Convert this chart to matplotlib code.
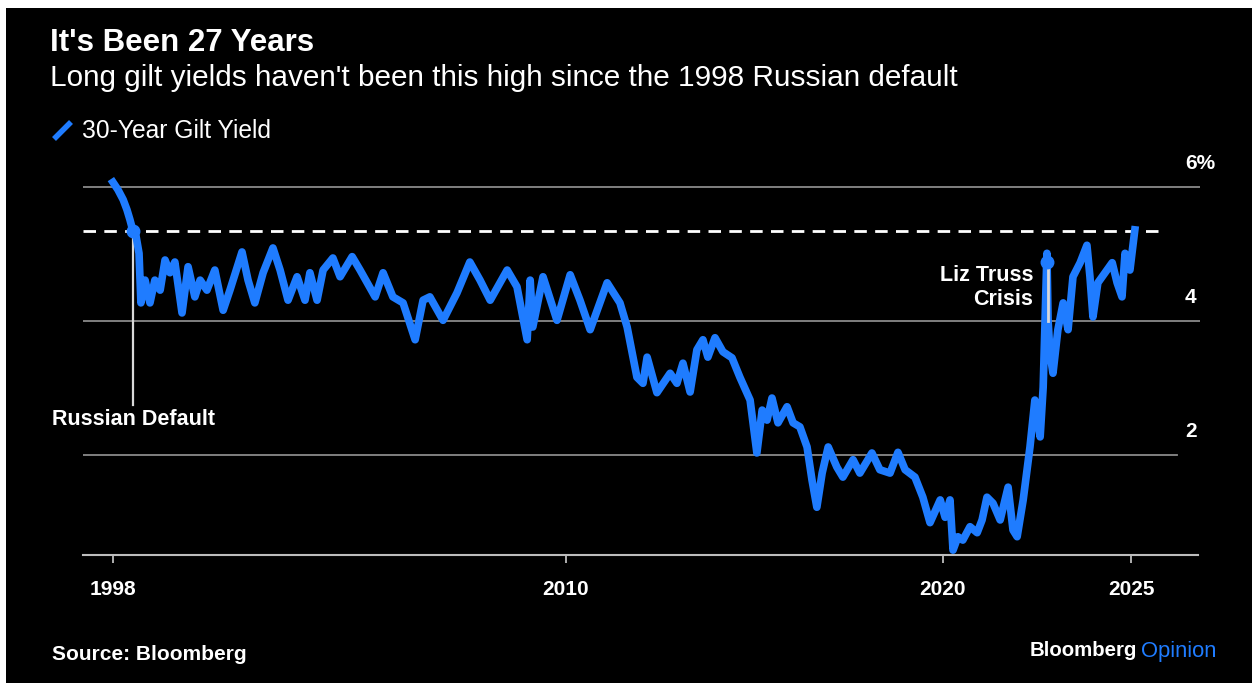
import numpy as np
import matplotlib
matplotlib.use("Agg")
import matplotlib.pyplot as plt
from matplotlib.lines import Line2D
from matplotlib.patches import Rectangle
import matplotlib.transforms as mtransforms

# 30-year gilt yield (decimal year, percent)
years = [
    1998.00, 1998.13, 1998.27, 1998.37, 1998.45, 1998.53, 1998.61, 1998.69, 1998.74, 1998.85,
    1998.98, 1999.11, 1999.25, 1999.38, 1999.51, 1999.64, 1999.83, 1999.99, 2000.17, 2000.31,
    2000.49, 2000.70, 2000.92, 2001.10, 2001.42, 2001.58, 2001.76, 2001.98, 2002.24, 2002.43,
    2002.64, 2002.88, 2003.09, 2003.22, 2003.41, 2003.57, 2003.83, 2004.02, 2004.34, 2004.55,
    2004.95, 2005.16, 2005.42, 2005.69, 2006.01, 2006.22, 2006.40, 2006.75, 2007.12, 2007.46,
    2007.73, 2008.00, 2008.26, 2008.45, 2008.71, 2008.98, 2009.06, 2009.13, 2009.40, 2009.77,
    2010.12, 2010.38, 2010.65, 2011.10, 2011.44, 2011.63, 2011.89, 2012.05, 2012.16, 2012.42,
    2012.77, 2012.95, 2013.11, 2013.30, 2013.48, 2013.64, 2013.77, 2013.96, 2014.17, 2014.41,
    2014.62, 2014.89, 2015.07, 2015.21, 2015.34, 2015.47, 2015.63, 2015.87, 2016.03, 2016.21,
    2016.40, 2016.53, 2016.66, 2016.80, 2016.96, 2017.19, 2017.35, 2017.62, 2017.80, 2018.12,
    2018.33, 2018.60, 2018.81, 2019.00, 2019.26, 2019.47, 2019.66, 2019.93, 2020.06, 2020.19,
    2020.27, 2020.40, 2020.53, 2020.72, 2020.91, 2021.04, 2021.17, 2021.33, 2021.52, 2021.73,
    2021.86, 2021.97, 2022.13, 2022.31, 2022.44, 2022.58, 2022.66, 2022.76, 2022.79, 2022.84,
    2022.92, 2023.05, 2023.19, 2023.32, 2023.45, 2023.64, 2023.82, 2023.90, 2023.98, 2024.11,
    2024.35, 2024.49, 2024.62, 2024.75, 2024.83, 2024.96, 2025.09,
]
yields = [
    6.07, 5.96, 5.81, 5.66, 5.51, 5.34, 5.27, 5.01, 4.27, 4.61,
    4.27, 4.61, 4.46, 4.91, 4.72, 4.88, 4.12, 4.81, 4.36, 4.61,
    4.46, 4.76, 4.16, 4.46, 5.03, 4.61, 4.27, 4.72, 5.09, 4.76,
    4.31, 4.66, 4.31, 4.72, 4.31, 4.76, 4.94, 4.66, 4.96, 4.76,
    4.36, 4.72, 4.36, 4.27, 3.72, 4.31, 4.36, 4.01, 4.42, 4.88,
    4.61, 4.31, 4.57, 4.76, 4.51, 3.72, 4.61, 3.91, 4.66, 4.01,
    4.69, 4.31, 3.87, 4.57, 4.27, 3.91, 3.16, 3.07, 3.46, 2.93,
    3.22, 3.07, 3.37, 2.94, 3.57, 3.72, 3.46, 3.75, 3.54, 3.45,
    3.16, 2.82, 2.03, 2.67, 2.52, 2.85, 2.48, 2.72, 2.48, 2.42,
    2.12, 1.63, 1.22, 1.73, 2.12, 1.82, 1.67, 1.93, 1.73, 2.03,
    1.78, 1.73, 2.04, 1.78, 1.67, 1.37, 0.99, 1.33, 1.07, 1.33,
    0.58, 0.78, 0.73, 0.93, 0.84, 1.03, 1.37, 1.28, 1.03, 1.52,
    0.88, 0.78, 1.33, 2.12, 2.82, 2.27, 3.01, 5.01, 4.01, 3.52,
    3.22, 3.87, 4.27, 3.87, 4.66, 4.87, 5.13, 4.66, 4.06, 4.57,
    4.76, 4.87, 4.57, 4.36, 5.01, 4.76, 5.36,
]

grid_levels = [2, 4, 6]
grid_labels = ["2", "4", "6%"]
xtick_years = [1998, 2010, 2020, 2025]
threshold = 5.35

russian_default = (1998.53, 5.34)
truss_crisis = (2022.76, 4.88)

blue = "#1f7cff"
grey = "#8a8a8a"

plt.rcParams['font.family'] = ['Liberation Sans', 'DejaVu Sans']

W, H = 1252, 683
fig = plt.figure(figsize=(W / 100, H / 100), dpi=100, facecolor="white")
# black card with thin white margin at the top and left
fig.patches.append(Rectangle((6 / W, 0), 1 - 6 / W, 1 - 8 / H, transform=fig.transFigure,
                             facecolor="black", edgecolor="none", zorder=-10))

def fx(px):
    return px / W

def fy(py):
    return 1 - py / H

ax = fig.add_axes([fx(83), fy(555), fx(1200) - fx(83), fy(180) - fy(555)])
ax.set_zorder(5)
ax.set_facecolor("none")
ax.set_xlim(1998 - 30 / 37.72, 1998 + 1087 / 37.72)
ax.set_ylim(0.5075, 6.104)
for s in ax.spines.values():
    s.set_visible(False)

# gridlines
ax.axhline(6, xmin=0, xmax=1, color=grey, lw=1.3, zorder=1)
ax.axhline(4, xmin=0, xmax=1, color=grey, lw=1.3, zorder=1)
ax.axhline(2, xmin=0, xmax=0.979, color=grey, lw=1.3, zorder=1)
ax.axhline(0.5075, xmin=0, xmax=0.998, color="#bdbdbd", lw=1.5, zorder=1, clip_on=False)
ax.axhline(threshold, xmin=0, xmax=0.967, color="white", lw=2, ls=(0, (4.5, 3)), zorder=3)

lab_tr = mtransforms.blended_transform_factory(ax.transAxes, ax.transData)
for lv, lb in zip(grid_levels, grid_labels):
    ax.text((1185 - 83) / 1117, lv + 0.35, lb, transform=lab_tr, color="white",
            fontsize=15, fontweight="bold", ha="left", va="center")

# annotation stems
ax.plot([russian_default[0]] * 2, [russian_default[1], 2.75], color="#d9d9d9", lw=1.6, zorder=2)
ax.plot([truss_crisis[0] + 0.04] * 2, [truss_crisis[1], 4.0], color="#d9d9d9", lw=2, zorder=4)

ax.plot(years, yields, color=blue, lw=5.5, solid_joinstyle="round", zorder=3, clip_on=False)
ax.plot([russian_default[0], truss_crisis[0]], [russian_default[1], truss_crisis[1]],
        ls="none", marker="o", ms=9, color=blue, zorder=5)

ax.text(1996.38, 2.53, "Russian Default", color="white", fontsize=15.5, fontweight="bold",
        ha="left", va="center")
ax.text(2022.40, 4.50, "Liz Truss\nCrisis", color="white", fontsize=15.5, fontweight="bold",
        ha="right", va="center", linespacing=1.2)

ax.set_xticks(xtick_years)
ax.set_xticklabels([str(y) for y in xtick_years])
ax.tick_params(axis="x", colors="#bdbdbd", length=6, width=1.3, pad=12, labelcolor="white",
               labelsize=15)
for t in ax.get_xticklabels():
    t.set_fontweight("bold")
ax.set_yticks([])

# titles
fig.text(fx(50), fy(43), "It's Been 27 Years", color="white", fontsize=22.5, fontweight="bold",
         ha="left", va="center")
fig.text(fx(50), fy(78), "Long gilt yields haven't been this high since the 1998 Russian default",
         color="white", fontsize=21.4, ha="left", va="center")

# legend
fig.add_artist(Line2D([fx(54), fx(71)], [fy(139), fy(122)], color=blue, lw=4,
                      solid_capstyle="butt"))
fig.text(fx(82), fy(131), "30-Year Gilt Yield", color="white", fontsize=17.7, ha="left",
         va="center")

# footer
fig.text(fx(52), fy(655), "Source: Bloomberg", color="white", fontsize=15, fontweight="bold",
         ha="left", va="center")
fig.text(fx(1137), fy(651), "Bloomberg", color="white", fontsize=14.7, fontweight="bold",
         ha="right", va="center")
fig.text(fx(1141), fy(651), "Opinion", color=blue, fontsize=15.8, ha="left", va="center")

fig.savefig("out.png", dpi=100, facecolor=fig.get_facecolor())
